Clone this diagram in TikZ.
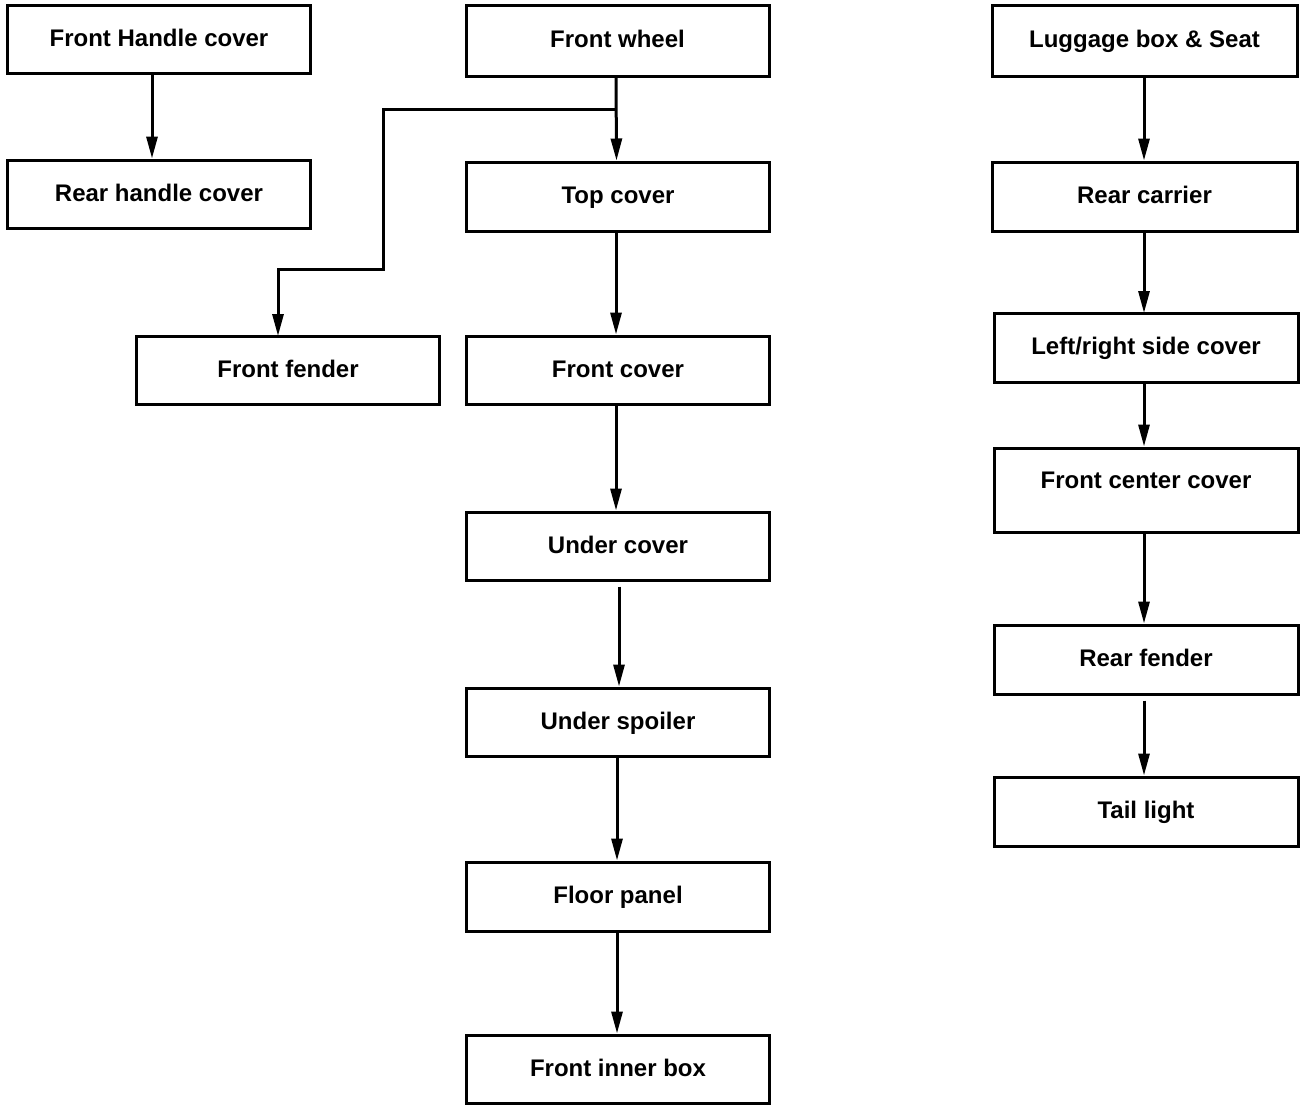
\documentclass[tikz,border=0pt]{standalone}
\usepackage{fontspec}
\setmainfont{Liberation Sans}
\usetikzlibrary{arrows.meta}
\begin{document}
\begin{tikzpicture}[x=1pt,y=-1pt,
  box/.style={draw,line width=3pt,rectangle,inner sep=0pt,minimum width=303pt,minimum height=68pt,
    font=\bfseries\fontsize{24}{28}\selectfont,text height=21pt,text depth=7pt},
  arr/.style={line width=3pt,-{Triangle[length=22pt,width=11pt]}}]
\useasboundingbox (0,0) rectangle (1300,1104);
% left column
\node[box] (fh) at (159,39) {Front Handle cover};
\node[box] (rh) at (159,194) {Rear handle cover};
% middle column
\node[box,minimum height=71pt] (fw) at (617.5,40.5) {Front wheel};
\node[box,minimum height=69pt] (tc) at (618,196.5) {Top cover};
\node[box] (ff) at (288,370) {Front fender};
\node[box] (fc) at (618,370) {Front cover};
\node[box] (uc) at (618,546) {Under cover};
\node[box] (us) at (618,722) {Under spoiler};
\node[box,minimum height=69pt] (fp) at (618,896.5) {Floor panel};
\node[box] (fib) at (618,1069) {Front inner box};
% right column
\node[box,minimum width=305pt,minimum height=71pt] (lb) at (1144.5,40.5) {Luggage box \& Seat};
\node[box,minimum width=305pt,minimum height=69pt] (rc) at (1144.5,196.5) {Rear carrier};
\node[box,minimum width=304pt,minimum height=69pt] (ls) at (1146,347.5) {Left/right side cover};
\node[box,minimum width=304pt,minimum height=84pt,text depth=25pt] (fcc) at (1146,490) {Front center cover};
\node[box,minimum width=304pt,minimum height=69pt] (rf) at (1146,659.5) {Rear fender};
\node[box,minimum width=304pt,minimum height=69pt] (tl) at (1146,811.5) {Tail light};
% connectors
\draw[arr] ([xshift=-7pt]fh.south) -- ([xshift=-7pt]rh.north);
\draw[arr] ([xshift=-1.5pt]fw.south) -- ([xshift=-1.5pt]tc.north);
\coordinate (j) at (616,109);
\draw[arr,line join=miter] (j) -- (383,109) -- (383,269) -- (278,269) -- (278,336);
\draw[arr] ([xshift=-2pt]tc.south) -- ([xshift=-2pt]fc.north);
\draw[arr] ([xshift=-2pt]fc.south) -- ([xshift=-2pt]uc.north);
\draw[arr,shorten <=5pt] ([xshift=1pt]uc.south) -- ([xshift=1pt]us.north);
\draw[arr] ([xshift=-1pt]us.south) -- ([xshift=-1pt]fp.north);
\draw[arr] ([xshift=-1pt]fp.south) -- ([xshift=-1pt]fib.north);
\draw[arr] ([xshift=-0.5pt]lb.south) -- ([xshift=-0.5pt]rc.north);
\draw[arr] ([xshift=-0.5pt]rc.south) -- (1144,313);
\draw[arr] ([xshift=-2pt]ls.south) -- ([xshift=-2pt]fcc.north);
\draw[arr] ([xshift=-2pt]fcc.south) -- ([xshift=-2pt]rf.north);
\draw[arr,shorten <=5pt] ([xshift=-2pt]rf.south) -- ([xshift=-2pt]tl.north);
\end{tikzpicture}
\end{document}
